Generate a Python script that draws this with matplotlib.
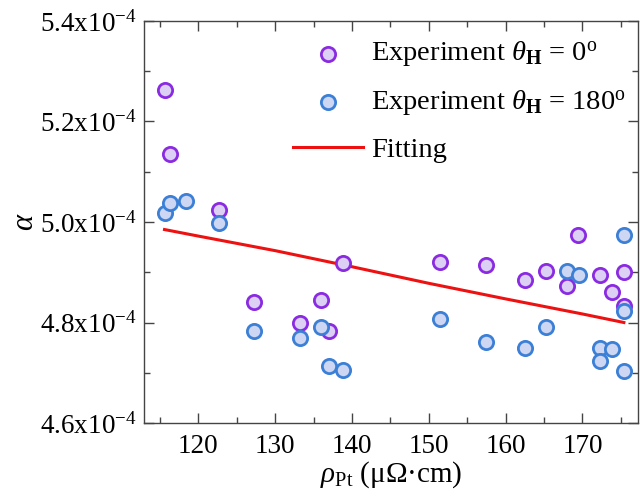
import matplotlib
matplotlib.use("Agg")
import matplotlib.pyplot as plt
from matplotlib.ticker import MultipleLocator, FuncFormatter

plt.rcParams['font.family'] = ['Liberation Serif', 'DejaVu Serif']
plt.rcParams['mathtext.fontset'] = 'custom'
plt.rcParams['mathtext.rm'] = 'Liberation Serif'
plt.rcParams['mathtext.it'] = 'Liberation Serif:italic'
plt.rcParams['mathtext.bf'] = 'Liberation Serif:bold'

# data (alpha in units of 1e-4)
rho_0 = [115.6, 116.3, 122.7, 127.3, 133.3, 136.0, 137.0, 138.8, 151.5, 157.4,
         162.5, 165.2, 168.0, 169.4, 172.3, 173.9, 175.4, 175.4]
alpha_0 = [5.263, 5.135, 5.023, 4.841, 4.800, 4.844, 4.784, 4.918, 4.920, 4.914,
           4.885, 4.902, 4.873, 4.974, 4.895, 4.861, 4.900, 4.832]
rho_180 = [115.6, 116.3, 118.4, 122.7, 127.3, 133.3, 136.0, 137.0, 138.8, 151.5,
           157.4, 162.5, 165.2, 168.0, 169.5, 172.3, 172.3, 173.9, 175.4, 175.4, 175.4]
alpha_180 = [5.018, 5.037, 5.042, 4.999, 4.784, 4.769, 4.791, 4.714, 4.706, 4.807,
             4.761, 4.749, 4.792, 4.902, 4.895, 4.750, 4.724, 4.747, 4.974, 4.822, 4.704]
rho_fit = [115.6, 120, 130, 140, 150, 160, 170, 175.4]
alpha_fit = [4.985, 4.972, 4.943, 4.911, 4.878, 4.847, 4.817, 4.800]

scale = 1e-4

fig = plt.figure(figsize=(6.4, 5.0), dpi=100)
ax = fig.add_axes([0.225, 0.154, 0.772, 0.804])

ax.scatter(rho_0, [a * scale for a in alpha_0], s=105, facecolor='#dcd0f4',
           edgecolor='#8a2be2', linewidth=2, zorder=3,
           label=r'Experiment $\theta_\mathbf{H}$ = 0$^\mathrm{o}$')
ax.scatter(rho_180, [a * scale for a in alpha_180], s=105, facecolor='#cdd6f2',
           edgecolor='#3b7fd6', linewidth=2, zorder=4,
           label=r'Experiment $\theta_\mathbf{H}$ = 180$^\mathrm{o}$')
ax.plot(rho_fit, [a * scale for a in alpha_fit], color='#ee1111', lw=2.2, zorder=2,
        label='Fitting')

ax.set_xlim(112.93, 177.25)
ax.set_ylim(4.6e-4, 5.4e-4)
ax.xaxis.set_major_locator(MultipleLocator(10))
ax.xaxis.set_minor_locator(MultipleLocator(5))
ax.yaxis.set_major_locator(MultipleLocator(0.2e-4))
ax.yaxis.set_minor_locator(MultipleLocator(0.1e-4))
ax.yaxis.set_major_formatter(FuncFormatter(lambda v, p: '%.1fx10$^{-4}$' % (v / scale)))

ax.tick_params(which='both', direction='in', top=True, right=True, labelsize=19.5,
               color='#444444')
ax.tick_params(which='major', length=7, width=1)
ax.tick_params(which='minor', length=4, width=1)
ax.tick_params(axis='x', pad=8)
ax.tick_params(axis='y', pad=5)
for s in ax.spines.values():
    s.set_color('#444444')
    s.set_linewidth(1)

ax.set_xlabel(r'$\rho_\mathrm{Pt}$ (μΩ·cm)', fontsize=21, labelpad=0)
ax.set_ylabel(r'$\alpha$', fontsize=22, labelpad=0)

ax.legend(loc='upper right', bbox_to_anchor=(1.01, 0.995), frameon=False, fontsize=20.5,
          labelspacing=0.68, handlelength=2.45, handletextpad=0.3, borderaxespad=0.2,
          markerscale=1.0)

fig.savefig('out.png', dpi=100)
